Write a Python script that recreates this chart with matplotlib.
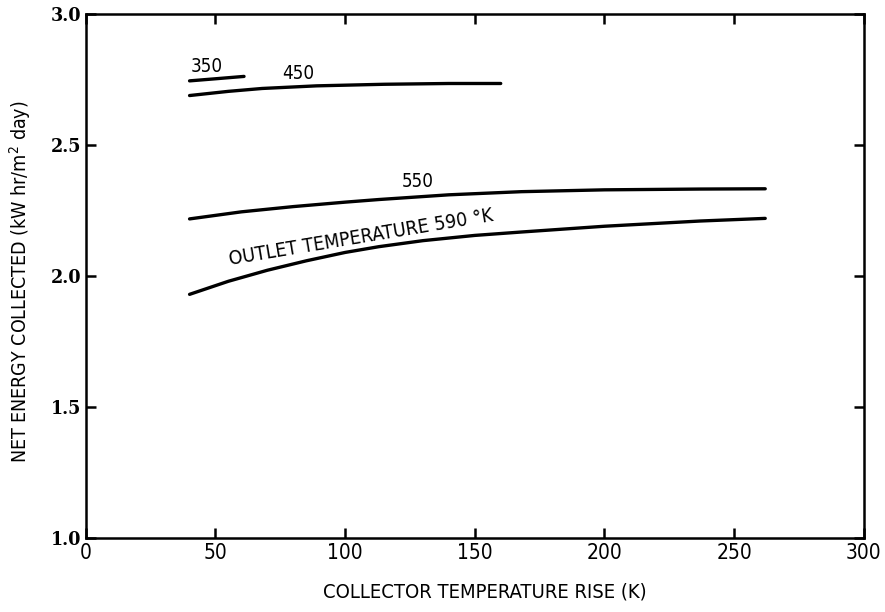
import matplotlib.pyplot as plt

plt.rcParams['font.family'] = ['DejaVu Sans']
plt.rcParams['font.stretch'] = 'condensed'

# curves (x: collector temperature rise K, y: kW hr/m2 day)
x_350 = [40, 50, 61]
y_350 = [2.745, 2.753, 2.762]

x_450 = [40, 55, 68, 89, 115, 140, 160]
y_450 = [2.689, 2.705, 2.716, 2.726, 2.732, 2.735, 2.735]

x_550 = [40, 60, 80, 100, 113, 140, 168, 200, 237, 262]
y_550 = [2.218, 2.245, 2.265, 2.282, 2.292, 2.310, 2.322, 2.329, 2.332, 2.333]

x_590 = [40, 55, 70, 85, 100, 113, 130, 150, 168, 200, 237, 262]
y_590 = [1.930, 1.980, 2.022, 2.058, 2.090, 2.112, 2.135, 2.155, 2.168, 2.190, 2.210, 2.220]

xticks = [0, 50, 100, 150, 200, 250, 300]
yticks = [1.0, 1.5, 2.0, 2.5, 3.0]
ytick_labels = ['1.0', '1.5', '2.0', '2.5', '3.0']

fig = plt.figure(figsize=(8.85, 6.12), dpi=100)
ax = fig.add_axes([0.097, 0.121, 0.879, 0.856])

for xs, ys in [(x_350, y_350), (x_450, y_450), (x_550, y_550), (x_590, y_590)]:
    ax.plot(xs, ys, color='black', linewidth=2.4, solid_capstyle='round')

ax.text(46.5, 2.80, '350', fontsize=13.5, ha='center', va='center')
ax.text(82, 2.775, '450', fontsize=13.5, ha='center', va='center')
ax.text(128, 2.36, '550', fontsize=13.5, ha='center', va='center')
ax.text(106, 2.148, "OUTLET TEMPERATURE 590 \u00b0K", fontsize=14,
        ha='center', va='center', rotation=9.5)

ax.set_xlim(0, 300)
ax.set_ylim(1.0, 3.0)
ax.set_xticks(xticks)
ax.set_yticks(yticks)
ax.set_yticklabels(ytick_labels)

ax.tick_params(direction='in', top=True, right=True, length=7, width=1.8,
               labelsize=15)
for label in ax.get_yticklabels():
    label.set_fontweight('bold')
    label.set_family('DejaVu Serif')
    label.set_fontsize(14)
for sp in ax.spines.values():
    sp.set_linewidth(1.8)

ax.set_xlabel('COLLECTOR TEMPERATURE RISE (K)', fontsize=14.5)
ax.xaxis.set_label_coords(0.513, -0.085)
ax.set_ylabel('NET ENERGY COLLECTED (kW hr/m$^2$ day)', fontsize=14)
ax.yaxis.set_label_coords(-0.068, 0.49)

fig.savefig('out.png', dpi=100)
